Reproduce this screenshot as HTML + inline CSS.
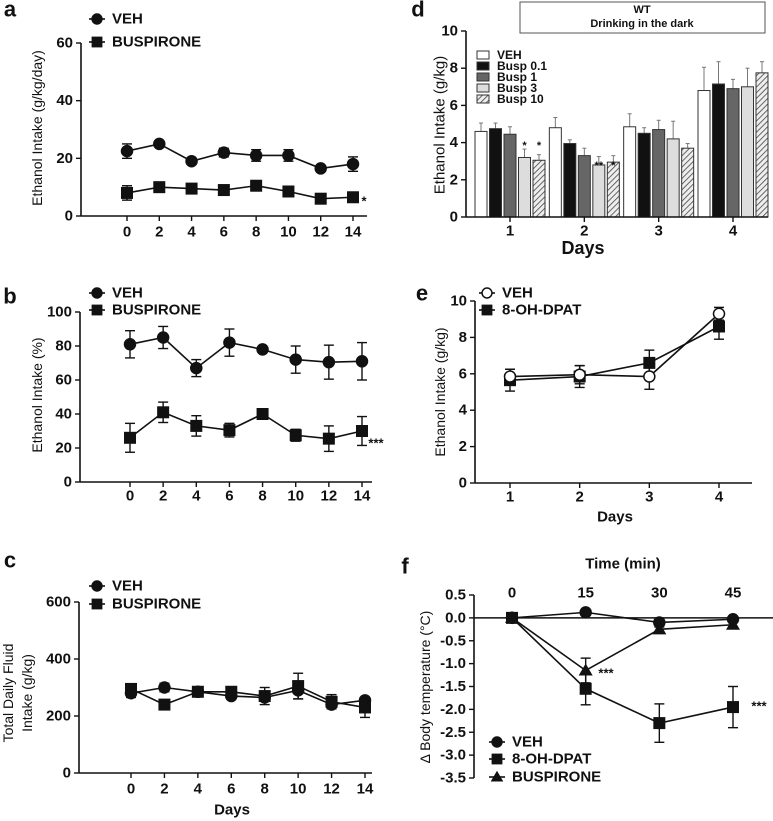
<!DOCTYPE html>
<html><head><meta charset="utf-8"><style>
html,body{margin:0;padding:0;background:#fff}
svg{display:block;font-family:"Liberation Sans",Arial,sans-serif}
</style></head><body>
<svg id="fig" width="773" height="821" viewBox="0 0 773 821" xmlns="http://www.w3.org/2000/svg">
<defs>
<pattern id="hatch" patternUnits="userSpaceOnUse" width="4" height="4" patternTransform="rotate(45)">
<rect width="4" height="4" fill="#eee"/><line x1="0" y1="0" x2="0" y2="4" stroke="#444" stroke-width="1.6"/>
</pattern>
</defs>
</svg>
<script>
// ---- Panel a data ----
const aDays=[0,2,4,6,8,10,12,14];
const aVeh=[22.5,25,19,22,21,21,16.5,18];
const aVehErr=[2.5,1,1,1.5,2,2,1,2.5];
const aBus=[8,10,9.5,9,10.5,8.5,6,6.5];
const aBusErr=[2.5,1,1.5,1,1,1,1,1];
const aYTicks=[0,20,40,60];
// ---- Panel b data ----
const bVeh=[81,85,67,82,78,72,70.5,71];
const bVehErr=[8,6.5,5,8,1.5,8,10,11];
const bBus=[26,41,33,30.5,40,27.5,25.5,30];
const bBusErr=[8.5,6,6,4,1,3.5,7.5,8.5];
const bYTicks=[0,20,40,60,80,100];
// ---- Panel c data ----
const cVeh=[280,300,285,270,265,290,240,255];
const cVehErr=[15,15,10,10,10,30,10,8];
const cBus=[295,240,285,285,270,305,250,230];
const cBusErr=[15,8,8,8,30,45,25,35];
const cYTicks=[0,200,400,600];
// ---- Panel d data ----
const dDays=[1,2,3,4];
const dGroups=["VEH","Busp 0.1","Busp 1","Busp 3","Busp 10"];
const dVals=[[4.6,4.8,4.85,6.8],[4.75,3.95,4.5,7.15],[4.45,3.3,4.7,6.9],[3.2,2.8,4.2,7.0],[3.05,2.95,3.7,7.75]];
const dErrs=[[0.45,0.55,0.7,1.25],[0.3,0.2,0.3,1.2],[0.4,0.4,0.5,0.5],[0.45,0.45,0.95,1.0],[0.3,0.35,0.25,0.6]];
const dYTicks=[0,2,4,6,8,10];
// ---- Panel e data ----
const eDays=[1,2,3,4];
const eVeh=[5.85,5.95,5.85,9.3];
const eVehErr=[0.4,0.5,0.7,0.35];
const eDpat=[5.65,5.85,6.6,8.6];
const eDpatErr=[0.6,0.6,0.7,0.7];
const eYTicks=[0,2,4,6,8,10];
// ---- Panel f data ----
const fTimes=[0,15,30,45];
const fVeh=[0,0.12,-0.1,-0.03];
const fVehErr=[0,0.05,0.05,0.05];
const fDpat=[0,-1.55,-2.3,-1.95];
const fDpatErr=[0,0.35,0.42,0.45];
const fBus=[0,-1.15,-0.25,-0.15];
const fBusErr=[0,0.27,0.05,0.05];
const fYTicks=[0.5,0,-0.5,-1,-1.5,-2,-2.5,-3,-3.5];
const fYLabels=["0.5","0.0","-0.5","-1.0","-1.5","-2.0","-2.5","-3.0","-3.5"];

const svg=document.getElementById('fig');
const NS="http://www.w3.org/2000/svg";
function el(tag,attrs,parent){const e=document.createElementNS(NS,tag);for(const k in attrs)e.setAttribute(k,attrs[k]);(parent||svg).appendChild(e);return e;}
function txt(s,x,y,size,weight,anchor,parent,rot){const t=el('text',{x:x,y:y,'font-size':size,'font-weight':weight||'bold','text-anchor':anchor||'middle','dominant-baseline':'central',fill:'#111'},parent);if(rot)t.setAttribute('transform','rotate(-90 '+x+' '+y+')');t.textContent=s;return t;}
function lin(d0,d1,p0,p1){return v=>p0+(v-d0)*(p1-p0)/(d1-d0);}
function marker(type,x,y,g,open,sc){
  sc=sc||1;
  if(type==='circle')return el('circle',{cx:x,cy:y,r:5.5*sc,fill:open?'#fff':'#111',stroke:'#111','stroke-width':1.5},g);
  if(type==='square')return el('rect',{x:x-6*sc,y:y-6*sc,width:12*sc,height:12*sc,fill:'#111'},g);
  return el('polygon',{points:(x)+','+(y-7*sc)+' '+(x+7*sc)+','+(y+5*sc)+' '+(x-7*sc)+','+(y+5*sc),fill:'#111'},g);
}
function series(g,xs,vals,errs,X,Y,type,open,name){
  const sg=el('g',{},g);
  
  
  let d='';
  xs.forEach((xv,i)=>{d+=(i?'L':'M')+X(xv)+','+Y(vals[i]);});
  el('path',{d:d,fill:'none',stroke:'#111','stroke-width':1.6},sg);
  xs.forEach((xv,i)=>{
    const x=X(xv),y1=Y(vals[i]+errs[i]),y2=Y(vals[i]-errs[i]);
    if(errs[i]>0){el('line',{x1:x,y1:y1,x2:x,y2:y2,stroke:'#111','stroke-width':1.4},sg);
    el('line',{x1:x-5,y1:y1,x2:x+5,y2:y1,stroke:'#111','stroke-width':1.4},sg);
    el('line',{x1:x-5,y1:y2,x2:x+5,y2:y2,stroke:'#111','stroke-width':1.4},sg);}
    const m=marker(type,x,Y(vals[i]),sg,open);
    
    
  });
}
function yAxis(g,ax,ticks,labels,Y,top,bot){
  el('line',{x1:ax,y1:top,x2:ax,y2:bot,stroke:'#111','stroke-width':1.6},g);
  ticks.forEach((t,i)=>{el('line',{x1:ax-5,y1:Y(t),x2:ax,y2:Y(t),stroke:'#111','stroke-width':1.4},g);
    const l=txt(labels?labels[i]:String(t),ax-8,Y(t),15,'bold','end',g);
    
    });
}
function xAxis(g,ax,end,y,xs,X,labY,ticks){
  el('line',{x1:ax,y1:y,x2:end,y2:y,stroke:'#111','stroke-width':1.6},g);
  xs.forEach(v=>{if(ticks!==false)el('line',{x1:X(v),y1:y,x2:X(v),y2:y+5,stroke:'#111','stroke-width':1.4},g);
    const l=txt(String(v),X(v),labY,15,'bold','middle',g);
    
    });
}
function legend(g,items,x,tx){
  items.forEach(it=>{const lg=el('g',{},g);
    
    
    el('line',{x1:x-8,y1:it.y,x2:x+8,y2:it.y,stroke:'#111','stroke-width':1.6},lg);
    marker(it.type,x,it.y,lg,it.open,0.9);
    txt(it.label,tx,it.y,15,'bold','start',lg);});
}
function panel(name){const g=el('g',{});return g;}

// Panel a
(function(){const g=panel('panel-a');
 const X=lin(0,14,127,353),Y=lin(0,60,216,43);
 txt('a',10,9,22,'bold','middle',g);
 yAxis(g,81,aYTicks,null,Y,43,216);xAxis(g,81,367,216,aDays,X,232);
 txt('Ethanol Intake (g/kg/day)',37,128,14,'normal','middle',g,true);
 series(g,aDays,aVeh,aVehErr,X,Y,'circle',false,'veh-line');
 series(g,aDays,aBus,aBusErr,X,Y,'square',false,'buspirone-line');
 txt('*',364,201,13,'bold','middle',g);
 legend(g,[{type:'circle',label:'VEH',y:19},{type:'square',label:'BUSPIRONE',y:42}],97,112);
})();
// Panel b
(function(){const g=panel('panel-b');
 const X=lin(0,14,130,362),Y=lin(0,100,482,312);
 txt('b',10,296,22,'bold','middle',g);
 yAxis(g,80,bYTicks,null,Y,312,482);xAxis(g,80,372,482,aDays,X,496);
 txt('Ethanol Intake (%)',37,395,14,'normal','middle',g,true);
 series(g,aDays,bVeh,bVehErr,X,Y,'circle',false,'veh-line');
 series(g,aDays,bBus,bBusErr,X,Y,'square',false,'buspirone-line');
 txt('***',376,443,13,'bold','middle',g);
 legend(g,[{type:'circle',label:'VEH',y:293},{type:'square',label:'BUSPIRONE',y:310}],97,112);
})();
// Panel c
(function(){const g=panel('panel-c');
 const X=lin(0,14,131,365),Y=lin(0,600,773,602);
 txt('c',10,560,22,'bold','middle',g);
 yAxis(g,79,cYTicks,null,Y,602,773);xAxis(g,79,372,773,aDays,X,789);
 txt('Days',232,810,15,'bold','middle',g);
 txt('Total Daily Fluid',8,693,14,'normal','middle',g,true);
 txt('Intake (g/kg)',27,693,14,'normal','middle',g,true);
 series(g,aDays,cVeh,cVehErr,X,Y,'circle',false,'veh-line');
 series(g,aDays,cBus,cBusErr,X,Y,'square',false,'buspirone-line');
 legend(g,[{type:'circle',label:'VEH',y:586},{type:'square',label:'BUSPIRONE',y:604}],97,112);
})();
// Panel d
(function(){const g=panel('panel-d');
 const X=lin(1,4,510,733),Y=lin(0,10,217,31);
 txt('d',418,9,22,'bold','middle',g);
 const box=el('rect',{x:520,y:2,width:245,height:31,fill:'#fff',stroke:'#555','stroke-width':1},g);
 
 txt('WT',642,10,11,'bold','middle',g);txt('Drinking in the dark',642,24,11,'bold','middle',g);
 const fills=['#fff','#111','#666','#ddd','url(#hatch)'];
 dVals.forEach((vals,s)=>{vals.forEach((v,i)=>{
   const cx=X(dDays[i])+(s-2)*14.5,w=12;
   const ey=Y(v+dErrs[s][i]);
   el('line',{x1:cx,y1:ey,x2:cx,y2:Y(v),stroke:'#777','stroke-width':1},g);
   el('line',{x1:cx-2,y1:ey,x2:cx+2,y2:ey,stroke:'#777','stroke-width':1},g);
   const b=el('rect',{x:cx-w/2,y:Y(v),width:w,height:Y(0)-Y(v),fill:fills[s],stroke:'#333','stroke-width':1},g);
   
   
 });});
 txt('*',X(1)+14.5,146,11,'bold','middle',g);txt('*',X(1)+29,146,11,'bold','middle',g);
 txt('**',X(2)+14.5,166,11,'bold','middle',g);txt('*',X(2)+29,166,11,'bold','middle',g);
 yAxis(g,466,dYTicks,null,Y,31,217);xAxis(g,466,768,217,dDays,X,231);
 txt('Days',583,248,18,'bold','middle',g);
 txt('Ethanol Intake (g/kg)',440,125,15,'normal','middle',g,true);
 dGroups.forEach((n,s)=>{const lg=el('g',{},g);
   
   
   const y=55+s*11;
   el('rect',{x:477,y:y-4,width:12,height:8,fill:fills[s],stroke:'#333','stroke-width':1},lg);
   txt(n,497,y,12,'bold','start',lg);});
})();
// Panel e
(function(){const g=panel('panel-e');
 const X=lin(1,4,510,719),Y=lin(0,10,483,301);
 txt('e',422,293,22,'bold','middle',g);
 yAxis(g,475,eYTicks,null,Y,301,483);xAxis(g,475,752,483,eDays,X,497);
 txt('Days',615,517,15,'bold','middle',g);
 txt('Ethanol Intake (g/kg)',440,392,14,'normal','middle',g,true);
 series(g,eDays,eDpat,eDpatErr,X,Y,'square',false,'8-oh-dpat-line');
 series(g,eDays,eVeh,eVehErr,X,Y,'circle',true,'veh-line');
 legend(g,[{type:'circle',open:true,label:'VEH',y:293},{type:'square',label:'8-OH-DPAT',y:310}],487,502);
})();
// Panel f
(function(){const g=panel('panel-f');
 const X=lin(0,45,512,733),Y=lin(0.5,-3.5,595,778);
 txt('f',405,566,22,'bold','middle',g);
 txt('Time (min)',623,564,15,'bold','middle',g);
 yAxis(g,474,fYTicks,fYLabels,Y,595,778);
 el('line',{x1:474,y1:Y(0),x2:773,y2:Y(0),stroke:'#111','stroke-width':1.6},g);
 fTimes.forEach(t=>{const l=txt(String(t),X(t),593,15,'bold','middle',g);});
 txt('Δ Body temperature (°C)',425,687,14,'normal','middle',g,true);
 series(g,fTimes,fDpat,fDpatErr,X,Y,'square',false,'8-oh-dpat-line');
 series(g,fTimes,fBus,fBusErr,X,Y,'triangle',false,'buspirone-line');
 series(g,fTimes,fVeh,fVehErr,X,Y,'circle',false,'veh-line');
 txt('***',606,673,13,'bold','middle',g);txt('***',759,706,13,'bold','middle',g);
 legend(g,[{type:'circle',label:'VEH',y:742},{type:'square',label:'8-OH-DPAT',y:759},{type:'triangle',label:'BUSPIRONE',y:777}],497,512);
})();
</script>
</body></html>
